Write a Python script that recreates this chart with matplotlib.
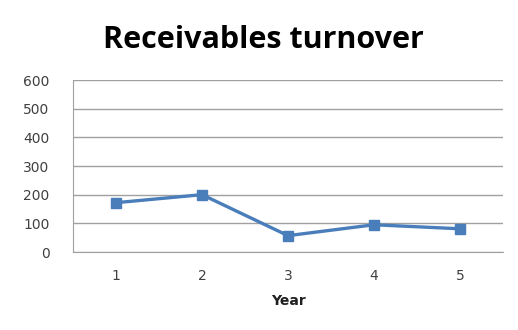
import matplotlib.pyplot as plt

years = [1, 2, 3, 4, 5]
turnover = [172, 200, 57, 95, 81]
y_ticks = [0, 100, 200, 300, 400, 500, 600]

fig = plt.figure(figsize=(5.18, 3.30), dpi=100)
ax = fig.add_axes([73 / 518, (330 - 252) / 330, 430 / 518, 172 / 330])

ax.plot(years, turnover, "-", color="#4A7EBB", linewidth=2.4,
        marker="s", markersize=7.5, markerfacecolor="#4A7EBB", markeredgecolor="#4A7EBB")

ax.set_xlim(0.5, 5.5)
ax.set_ylim(0, 600)
ax.set_xticks(years)
ax.set_yticks(y_ticks)
ax.yaxis.grid(True, color="#A0A0A0", linewidth=1.0)
ax.set_axisbelow(True)
ax.tick_params(length=0, labelsize=10, colors="#404040")
ax.tick_params(axis="y", pad=17)
ax.tick_params(axis="x", pad=12)
for s in ["top", "right"]:
    ax.spines[s].set_visible(False)
for s in ["left", "bottom"]:
    ax.spines[s].set_color("#A0A0A0")

ax.set_xlabel("Year", fontsize=10, fontweight="bold", color="#202020", labelpad=8)
fig.text(263 / 518, 1 - 40 / 330, "Receivables turnover", ha="center", va="center",
         fontsize=22, fontweight="bold", family="Open Sans")

fig.savefig("out.png", dpi=100)
